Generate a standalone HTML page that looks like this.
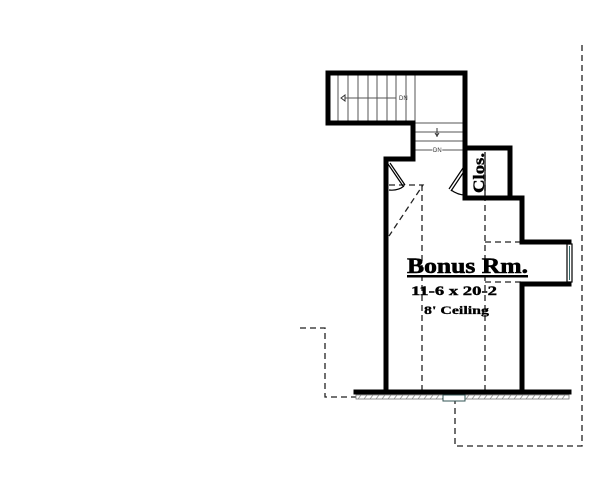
<!DOCTYPE html>
<html><head><style>
html,body{margin:0;padding:0;background:#fff;width:600px;height:500px;overflow:hidden}
svg{display:block}
</style></head><body>
<svg width="600" height="500" viewBox="0 0 600 500" xmlns="http://www.w3.org/2000/svg">
<g stroke="#222" stroke-width="1.3" fill="none" stroke-dasharray="6,4">
<path d="M582,45 V446 H455 V396"/>
<path d="M300,328 H325 V397 H356"/>
<path d="M422,185 V392"/>
<path d="M485,165 V392"/>
<path d="M485,242 H521 M485,282 H521"/>
<path d="M389,185 H423 L389,236"/>
</g>
<rect x="356" y="395" width="213" height="4" fill="none" stroke="#777" stroke-width="0.8"/>
<g stroke="#888" stroke-width="0.7">
<path d="M358,399 l3,-4 M364,399 l3,-4 M370,399 l3,-4 M376,399 l3,-4 M382,399 l3,-4 M388,399 l3,-4 M394,399 l3,-4 M400,399 l3,-4 M406,399 l3,-4 M412,399 l3,-4 M418,399 l3,-4 M424,399 l3,-4 M430,399 l3,-4 M436,399 l3,-4 M442,399 l3,-4 M466,399 l3,-4 M472,399 l3,-4 M478,399 l3,-4 M484,399 l3,-4 M490,399 l3,-4 M496,399 l3,-4 M502,399 l3,-4 M508,399 l3,-4 M514,399 l3,-4 M520,399 l3,-4 M526,399 l3,-4 M532,399 l3,-4 M538,399 l3,-4 M544,399 l3,-4 M550,399 l3,-4 M556,399 l3,-4 M562,399 l3,-4"/>
</g>
<rect x="443" y="395" width="22" height="6" fill="#fff" stroke="#355" stroke-width="1"/>
<g stroke="#555" stroke-width="1">
<path d="M329,75 V121 M338,75 V121 M348,75 V121 M358,75 V121 M368,75 V121 M377,75 V121 M387,75 V121 M396,75 V121 M406,75 V121 M415,75 V121"/>
<path d="M415,123 H463 M415,132 H463 M415,141 H463 M415,150 H463"/>
<path d="M345,98 H396"/>
</g>
<path d="M341,98 l4,-3 v6 z" fill="#fff" stroke="#333" stroke-width="1"/>
<text x="399" y="100" font-family="Liberation Sans, sans-serif" font-size="6" fill="#333">DN</text>
<text x="433" y="152" font-family="Liberation Sans, sans-serif" font-size="6" fill="#333" style="paint-order:stroke" stroke="#fff" stroke-width="2">DN</text>
<path d="M437,128 v9 M435,133 l2,3 l2,-3" stroke="#333" stroke-width="1" fill="none"/>
<g stroke="#000" stroke-width="5" fill="none" stroke-linejoin="miter" stroke-linecap="square">
<path d="M386,392 V159 H413 V123 H328 V73 H465 V198 H522 V242 H569"/>
<path d="M569,284 H522 V392"/>
<path d="M465,148 H510 V198"/>
<path d="M356,392 H569"/>
</g>
<path d="M485,152 V195" stroke="#000" stroke-width="1.2"/>
<rect x="567" y="244" width="5" height="38" fill="#fff" stroke="#000" stroke-width="1.2"/>
<path d="M569.5,246 V280" stroke="#366" stroke-width="1"/>
<g stroke="#000" stroke-width="1.2" fill="none">
<path d="M388,164 L403,186 M390,163 L405,185"/>
<path d="M389,190 Q398,191 404,186"/>
<path d="M463,168 L449,189 M465,170 L451,191"/>
<path d="M451,190 Q458,195 465,195"/>
</g>
<text x="484" y="193" transform="rotate(-90 484 193)" font-family="Liberation Serif, serif" font-weight="bold" font-size="16" fill="#000" textLength="40" lengthAdjust="spacingAndGlyphs" stroke="#000" stroke-width="0.4">Clos.</text>
<text x="407" y="273" font-family="Liberation Serif, serif" font-weight="bold" font-size="22" fill="#000" textLength="121" lengthAdjust="spacingAndGlyphs" stroke="#000" stroke-width="0.6">Bonus Rm.</text>
<rect x="407" y="275" width="121" height="2.5" fill="#000"/>
<text x="411" y="295" font-family="Liberation Serif, serif" font-weight="bold" font-size="13" fill="#000" textLength="86" lengthAdjust="spacingAndGlyphs" stroke="#000" stroke-width="0.4">11-6 x 20-2</text>
<text x="424" y="314" font-family="Liberation Serif, serif" font-weight="bold" font-size="12" fill="#000" textLength="65" lengthAdjust="spacingAndGlyphs" stroke="#000" stroke-width="0.3">8' Ceiling</text>
</svg>
</body></html>
